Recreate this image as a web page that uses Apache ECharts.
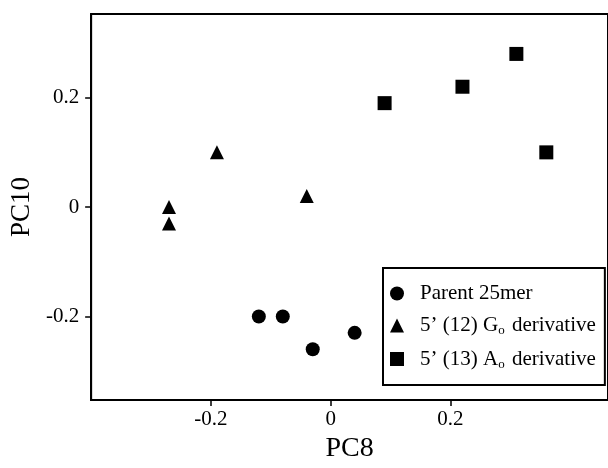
<!DOCTYPE html>
<html>
<head>
<meta charset="utf-8">
<script src="https://cdn.jsdelivr.net/npm/echarts@6/dist/echarts.min.js"></script>
<style>
    html, body { margin: 0; padding: 0; background: #fff; }
    #chart { width: 608px; height: 468px; }
</style>
</head>
<body>
<div id="chart"></div>
<script>
// PCA scores (PC8, PC10)
const parentPts = [[-0.12, -0.20], [-0.08, -0.20], [-0.03, -0.26], [0.04, -0.23]];
const gDerivPts = [[-0.19, 0.10], [-0.27, 0.00], [-0.27, -0.03], [-0.04, 0.02]];
const aDerivPts = [[0.09, 0.19], [0.22, 0.22], [0.31, 0.28], [0.36, 0.10]];

const seriesNames = ['Parent 25mer', '5’ (12) Go derivative', '5’ (13) Ao derivative'];
const legendLabels = ['Parent 25mer', '5’ (12) G{sub|o} derivative', '5’ (13) A{sub|o} derivative'];
const xTicks = [-0.2, 0, 0.2];
const yTicks = [-0.2, 0, 0.2];

const serif = '"Liberation Serif", "DejaVu Serif", serif';

const chart = echarts.init(document.getElementById('chart'));

function scatter(name, data, symbol) {
    return {
        name: name,
        type: 'scatter',
        data: data,
        symbol: symbol,
        symbolSize: 14,
        itemStyle: { color: '#000', opacity: 1 }
    };
}

chart.setOption({
    animation: false,
    grid: {
        left: 79,
        top: 14,
        width: 535,
        height: 390,
        show: true,
        borderColor: '#000',
        borderWidth: 2
    },
    xAxis: {
        type: 'value',
        min: -0.4,
        max: 0.463,
        name: 'PC8',
        nameLocation: 'middle',
        nameGap: 28,
        nameTextStyle: { fontFamily: serif, fontSize: 28, color: '#000' },
        axisLine: { show: true, onZero: false, lineStyle: { color: '#000', width: 2 } },
        axisTick: { show: true, length: 6, customValues: xTicks, lineStyle: { color: '#000', width: 1.5 } },
        axisLabel: { customValues: xTicks, margin: 9, fontFamily: serif, fontSize: 21, color: '#000' },
        splitLine: { show: false }
    },
    yAxis: {
        type: 'value',
        min: -0.353,
        max: 0.353,
        name: 'PC10',
        nameLocation: 'middle',
        nameGap: 50,
        nameTextStyle: { fontFamily: serif, fontSize: 27, color: '#000' },
        axisLine: { show: true, onZero: false, lineStyle: { color: '#000', width: 2 } },
        axisTick: { show: true, length: 6, customValues: yTicks, lineStyle: { color: '#000', width: 1.5 } },
        axisLabel: { customValues: yTicks, margin: 12, fontFamily: serif, fontSize: 21, color: '#000' },
        splitLine: { show: false }
    },
    legend: {
        orient: 'vertical',
        left: 383,
        top: 268,
        padding: [15, 9, 14, 7],
        itemGap: 11,
        itemWidth: 14,
        itemHeight: 14,
        borderColor: '#000',
        borderWidth: 2,
        borderRadius: 0,
        data: seriesNames.map((n, i) => ({ name: n, icon: ['circle', 'triangle', 'rect'][i] })),
        formatter: name => legendLabels[seriesNames.indexOf(name)],
        textStyle: {
            fontFamily: serif,
            fontSize: 21,
            color: '#000',
            padding: [0, 0, 0, 11],
            rich: {
                sub: { fontFamily: serif, fontSize: 13, color: '#000', padding: [11, 2, 0, 0] }
            }
        }
    },
    series: [
        scatter(seriesNames[0], parentPts, 'circle'),
        scatter(seriesNames[1], gDerivPts, 'triangle'),
        scatter(seriesNames[2], aDerivPts, 'rect')
    ]
});
</script>
</body>
</html>
